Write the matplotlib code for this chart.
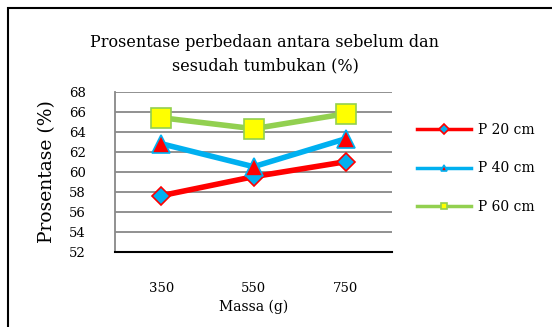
import matplotlib
matplotlib.use("Agg")
import matplotlib.pyplot as plt
from matplotlib.patches import Rectangle
from matplotlib.lines import Line2D

massa = ["350", "550", "750"]
p20 = [57.6, 59.5, 61.0]
p40 = [62.8, 60.5, 63.3]
p60 = [65.4, 64.3, 65.8]
y_ticks = [52, 54, 56, 58, 60, 62, 64, 66, 68]
labels = ["P 20 cm", "P 40 cm", "P 60 cm"]

blue = "#00B0F0"
red = "#FF0000"
green = "#92D050"
yellow = "#FFFF00"

plt.rcParams['font.family'] = ['DejaVu Serif']

fig = plt.figure(figsize=(5.52, 3.27), dpi=100)
# outer chart border (only top/left are inside the picture)
fig.patches.append(Rectangle((8 / 552, -0.1), 1.2, 1 - 8 / 327 + 0.1,
                             transform=fig.transFigure, fill=False,
                             edgecolor="black", linewidth=1.5))

ax = fig.add_axes([115 / 552, 1 - 251.7 / 327, (392 - 115) / 552, 160 / 327])
x = range(len(massa))

styles = [
    dict(color=red, marker="D", ms=9, mfc=blue, mec=red),
    dict(color=blue, marker="^", ms=13, mfc=red, mec=blue),
    dict(color=green, marker="s", ms=14, mfc=yellow, mec=green),
]
for vals, st in zip([p20, p40, p60], styles):
    ax.plot(x, vals, color=st["color"], linewidth=4, marker=st["marker"],
            markersize=st["ms"], markerfacecolor=st["mfc"],
            markeredgecolor=st["mec"], markeredgewidth=1.2, zorder=3)

ax.set_xlim(-0.5, 2.5)
ax.set_ylim(52, 68)
ax.set_yticks(y_ticks)
ax.set_xticks(list(x))
ax.set_xticklabels(massa)
ax.yaxis.grid(True, color="#888888", linewidth=1.3)
ax.set_axisbelow(True)
ax.tick_params(length=0, labelsize=9.5)
ax.tick_params(axis="x", pad=22)
ax.tick_params(axis="y", pad=21)
for s in ["top", "right"]:
    ax.spines[s].set_visible(False)
ax.spines["left"].set_color("#888888")
ax.spines["left"].set_linewidth(1.3)
ax.spines["bottom"].set_color("black")
ax.spines["bottom"].set_linewidth(1.5)

ax.set_xlabel("Massa (g)", fontsize=10, labelpad=3)
ax.set_ylabel("Prosentase (%)", fontsize=13.5, labelpad=9)

fig.text(265 / 552, 1 - 54 / 327,
         "Prosentase perbedaan antara sebelum dan\nsesudah tumbukan (%)",
         ha="center", va="center", fontsize=11.5, linespacing=1.5)

handles = [Line2D([], [], color=st["color"], linewidth=2.5, marker=st["marker"],
                  markersize=5, markerfacecolor=st["mfc"],
                  markeredgecolor=st["mec"], markeredgewidth=1.2)
           for st in styles]
ax.legend(handles, labels, loc="center left", bbox_to_anchor=(1.045, 0.52),
          frameon=False, fontsize=10, labelspacing=1.75, handlelength=3.9,
          handletextpad=0.5)

fig.savefig("out.png", dpi=100)
